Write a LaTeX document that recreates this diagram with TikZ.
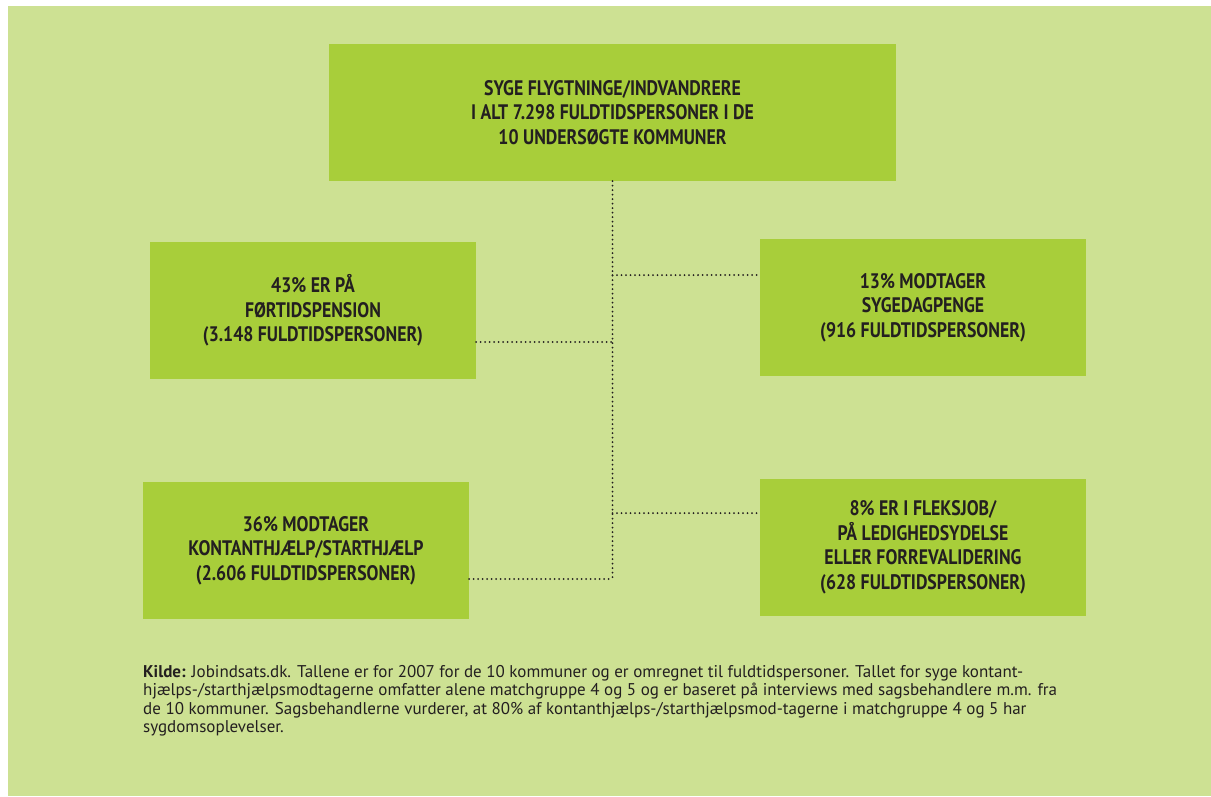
\documentclass[tikz,border=0pt]{standalone}
\usepackage{fontspec}
\setmainfont{PT Sans}
\newfontfamily\boxfont[FakeStretch=0.846]{PT Sans Bold}
\newfontfamily\capfont[FakeStretch=1.0,BoldFont={PT Sans Bold}]{PT Sans}
\definecolor{bgG}{HTML}{CDE193}
\definecolor{boxG}{HTML}{A8CE3A}
\definecolor{txt}{HTML}{231F20}
\tikzset{
  gbox/.style={fill=boxG, draw=none, inner sep=0pt, align=center, text=txt,
    font=\boxfont\fontsize{21}{24.5}\selectfont},
  dotline/.style={draw=txt, line width=2pt, line cap=round, dash pattern=on 0pt off 4.5pt}
}
\begin{document}
\begin{tikzpicture}[x=1pt,y=-1pt]
\useasboundingbox (0,0) rectangle (1211,796);
\fill[white] (0,0) rectangle (1211,796);
\fill[bgG] (8,6) rectangle (1211,796);

\node[gbox, minimum width=567pt, minimum height=137pt] (top) at (612.5,112.5)
  {SYGE FLYGTNINGE/INDVANDRERE\\I ALT 7.298 FULDTIDSPERSONER I DE\\10 UNDERSØGTE KOMMUNER};
\node[gbox, minimum width=326pt, minimum height=137pt] (lb1) at (313,310.5)
  {43\% ER PÅ\\FØRTIDSPENSION\\(3.148 FULDTIDSPERSONER)};
\node[gbox, minimum width=326pt, minimum height=137pt] (rb1) at (923,307.5)
  {13\% MODTAGER\\SYGEDAGPENGE\\(916 FULDTIDSPERSONER)};
\node[gbox, minimum width=326pt, minimum height=137pt] (lb2) at (306,550.5)
  {36\% MODTAGER\\KONTANTHJÆLP/STARTHJÆLP\\(2.606 FULDTIDSPERSONER)};
\node[gbox, minimum width=326pt, minimum height=137pt] (rb2) at (923,547.5)
  {8\% ER I FLEKSJOB/\\PÅ LEDIGHEDSYDELSE\\ELLER FORREVALIDERING\\(628 FULDTIDSPERSONER)};

\coordinate (c1) at ([yshift=32.5pt]rb1.west);
\coordinate (c2) at ([yshift=-31.5pt]lb1.east);
\coordinate (c3) at ([yshift=34.5pt]rb2.west);
\coordinate (c4) at ([yshift=-28.5pt]lb2.east);

\draw[dotline] (top.south) -- (top.south |- c4);
\draw[dotline] (top.south |- c1) -- (c1);
\draw[dotline] (c2) -- (top.south |- c2);
\draw[dotline] (top.south |- c3) -- (c3);
\draw[dotline] (c4) -- (top.south |- c4);

\node[anchor=north west, inner sep=0pt, align=left, text=txt,
  font=\capfont\fontsize{17}{18.5}\selectfont] (cap) at (143,665)
  {\textbf{Kilde:} Jobindsats.dk. Tallene er for 2007 for de 10 kommuner og er omregnet til fuldtidspersoner. Tallet for syge kontant-\\
   hjælps-/starthjælpsmodtagerne omfatter alene matchgruppe 4 og 5 og er baseret på interviews med sagsbehandlere m.m. fra\\
   de 10 kommuner. Sagsbehandlerne vurderer, at 80\% af kontanthjælps-/starthjælpsmod-tagerne i matchgruppe 4 og 5 har\\
   sygdomsoplevelser.};
\end{tikzpicture}
\end{document}
